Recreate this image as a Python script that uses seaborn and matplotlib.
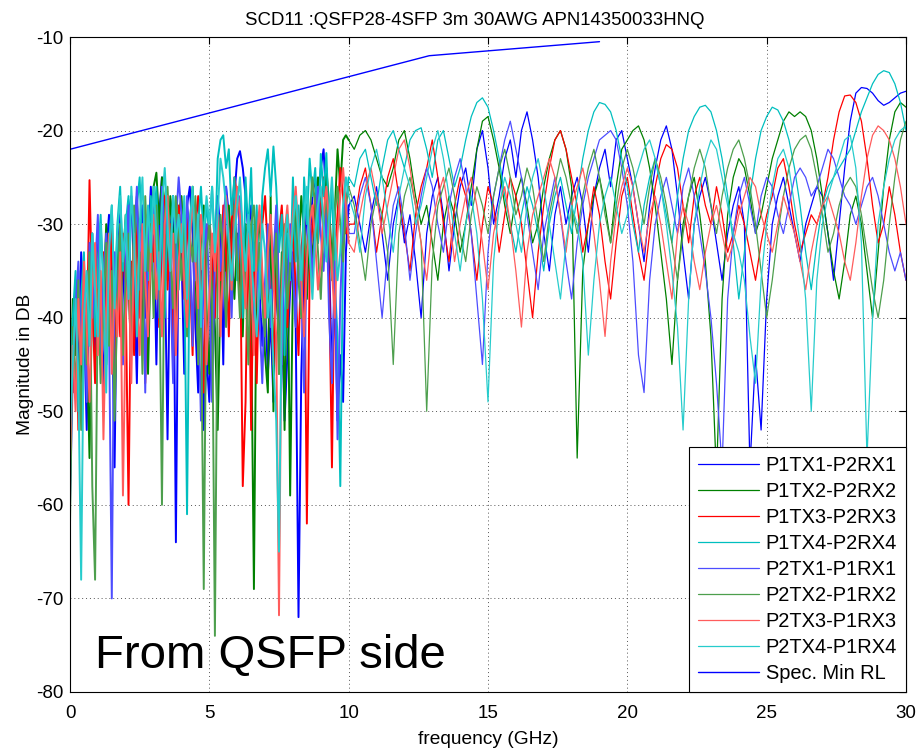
import numpy as np
import pandas as pd
import matplotlib
matplotlib.use("Agg")
import matplotlib.pyplot as plt
import seaborn as sns

# ---------------- data (dB values) ----------------
# low band: 0.0 .. 10.0 GHz ; high band: 10.2 .. 30.0 GHz
p1tx1_lo = [-58,-42,-36,-47,-33,-40,-52,-35,-31,-44,
            -30,-39,-48,-33,-29,-37,-56,-32,-28,-35,
            -41,-29,-27,-36,-47,-31,-28,-40,-33,-26,
            -30,-45,-29,-25,-34,-53,-31,-27,-64,-29,
            -33,-46,-28,-26,-31,-41,-48,-35,-52,-44,
            -49,-37,-32,-27,-31,-45,-26,-29,-34,-27,
            -23,-22.2,-24,-27,-31,-28,-34,-31,-37,-43,
            -38,-46,-40,-49,-35,-43,-39,-51,-44,-37,
            -33,-41,-72,-46,-35,-28,-32,-27,-25,-29,
            -24,-22,-28,-34,-46,-37,-51,-44,-49,-33,
            -28]
p1tx1_hi = [-27,-30,-33,-29,-26,-31,-36,-30,-27,-32,
            -29,-34,-40,-31,-27,-25,-29,-35,-30,-26,
            -24,-28,-22,-20,-24,-30,-27,-23,-21,-25,
            -20,-18,-21,-25,-31,-35,-29,-26,-30,-27,
            -25,-28,-33,-27,-24,-22,-26,-21,-20,-23,
            -26,-30,-34,-28,-24,-21,-19.5,-22,-27,-33,
            -38,-30,-27,-25,-28,-32,-36,-31,-28,-26,
            -30,-56,-44,-52,-38,-30,-27,-25,-28,-31,
            -34,-30,-28,-26,-27,-31,-36,-30,-24,-19,
            -16,-15.4,-15.5,-16,-16.8,-17.3,-17,-16.5,-16,-15.8]

p1tx2_lo = [-50,-38,-44,-35,-48,-37,-42,-55,-36,-40,
            -33,-45,-38,-30,-42,-36,-50,-31,-39,-34,
            -29,-37,-44,-31,-27,-35,-41,-29,-46,-33,
            -26,-24.5,-30,-25,-28,-36,-27,-31,-42,-29,
            -27,-33,-38,-30,-26,-35,-44,-31,-28,-39,
            -46,-34,-41,-52,-37,-30,-35,-28,-33,-38,
            -31,-36,-42,-30,-34,-40,-69,-33,-29,-37,
            -44,-48,-27,-50,-29,-46,-33,-52,-30,-59,
            -36,-29,-33,-27,-31,-38,-30,-34,-28,-25,
            -27,-31,-24,-28,-34,-29,-22,-26,-21,-20.5,
            -21]
p1tx2_hi = [-22,-20.5,-20,-21,-23,-25,-26,-24,-21,-20,
            -23,-27,-30,-28,-32,-36,-30,-27,-29,-33,
            -30,-26,-22,-19,-18.5,-21,-24,-28,-31,-27,
            -25,-28,-32,-30,-26,-23,-21,-20,-22,-26,
            -55,-35,-30,-27,-25,-28,-32,-26,-22,-21,
            -20,-19.5,-21,-24,-28,-33,-38,-45,-36,-30,
            -27,-25,-29,-34,-42,-57,-38,-29,-25,-23,
            -24,-27,-31,-29,-26,-23,-21,-19,-18,-18.5,
            -18,-18.5,-20,-23,-27,-31,-35,-38,-34,-29,
            -27,-30,-35,-40,-33,-26,-21,-18,-17,-17.5]

p1tx3_lo = [-45,-48,-37,-52,-40,-35,-43,-25.3,-38,-47,
            -36,-41,-33,-45,-39,-30,-48,-35,-42,-31,
            -38,-60,-34,-44,-29,-40,-33,-47,-36,-30,
            -34,-28,-41,-32,-27,-37,-30,-45,-33,-28,
            -31,-38,-29,-35,-44,-30,-27,-36,-48,-32,
            -29,-34,-40,-31,-36,-28,-33,-42,-30,-25,
            -27,-31,-58,-49,-29,-52,-32,-47,-34,-30,
            -27,-33,-38,-45,-36,-31,-28,-34,-41,-35,
            -30,-37,-44,-33,-29,-62,-35,-30,-27,-32,
            -28,-25,-31,-36,-56,-33,-29,-24,-27,-31,
            -30]
p1tx3_hi = [-30,-26,-24,-28,-33,-29,-25,-23,-27,-31,
            -35,-29,-26,-24,-21,-25,-30,-34,-28,-25,
            -27,-31,-36,-30,-26,-28,-33,-29,-25,-27,
            -30,-35,-40,-33,-28,-24,-21,-20,-22,-25,
            -28,-33,-30,-26,-29,-34,-38,-32,-27,-25,
            -29,-33,-36,-31,-26,-23,-21.5,-22,-24,-28,
            -32,-27,-25,-28,-30,-26,-29,-33,-31,-28,
            -30,-33,-36,-32,-29,-27,-24,-23,-26,-30,
            -33,-31,-29,-30,-28,-25,-21,-18,-16.3,-16.2,
            -17,-19,-23,-28,-32,-30,-26,-29,-33,-36]

p1tx4_lo = [-47,-40,-35,-50,-38,-33,-44,-36,-31,-42,
            -34,-29,-37,-45,-32,-28,-38,-30,-26,-35,
            -30,-27,-39,-33,-28,-25,-34,-29,-36,-27,
            -31,-26,-35,-29,-40,-28,-33,-27,-30,-37,
            -29,-34,-61,-31,-27,-36,-30,-26,-32,-28,
            -31,-26,-33,-23,-21,-20.5,-24,-22,-29,-25,
            -36,-29,-40,-25,-31,-24,-35,-28,-38,-27,
            -24,-22,-27,-21.7,-26,-33,-29,-44,-31,-36,
            -25,-34,-28,-39,-25,-30,-23,-27,-24,-32,
            -22.5,-27,-22.4,-31,-26,-36,-42,-58,-33,-28,
            -25]
p1tx4_hi = [-26,-23,-22,-25,-28,-24,-21,-20,-22,-24,
            -21,-20,-19.7,-22,-25,-21,-20,-23,-26,-24,
            -21,-18.5,-17,-16.5,-17.5,-20,-23,-27,-30,-33,
            -29,-26,-28,-31,-35,-30,-27,-25,-28,-31,
            -27,-23,-20,-18,-17,-17.2,-18,-20,-23,-26,
            -30,-33,-28,-25,-23,-26,-29,-32,-27,-23,
            -20,-18.5,-17.5,-17.3,-18,-20,-23,-27,-32,-38,
            -33,-27,-23,-20,-18.5,-17.5,-17.8,-19,-21,-24,
            -28,-33,-37,-32,-28,-26,-25,-24,-23,-22,
            -20,-18,-16.5,-15,-14,-13.6,-13.8,-15,-17,-20]

p2tx1_lo = [-60,-46,-39,-34,-43,-37,-49,-32,-40,-35,
            -29,-44,-36,-31,-41,-70,-33,-38,-30,-45,
            -34,-28,-42,-32,-26,-37,-30,-48,-29,-35,
            -27,-33,-40,-26,-31,-28,-36,-47,-30,-25,
            -29,-35,-27,-32,-43,-28,-38,-51,-34,-30,
            -37,-49,-33,-28,-35,-30,-26,-32,-40,-29,
            -34,-27,-31,-38,-29,-35,-42,-33,-40,-47,
            -36,-30,-41,-34,-28,-37,-45,-32,-38,-30,
            -35,-41,-31,-37,-48,-33,-29,-36,-30,-26,
            -31,-35,-28,-40,-47,-34,-53,-38,-30,-27,
            -31]
p2tx1_hi = [-31,-27,-25,-28,-34,-40,-33,-28,-26,-30,
            -36,-31,-27,-24,-26,-30,-33,-28,-25,-23,
            -26,-31,-38,-45,-33,-27,-24,-21,-19,-22,
            -25,-29,-33,-37,-31,-28,-25,-29,-34,-38,
            -32,-28,-25,-23,-21,-20.5,-20,-21,-24,-28,
            -34,-44,-48,-36,-30,-27,-25,-28,-31,-26,
            -24,-27,-31,-35,-40,-47,-56,-38,-31,-27,
            -25,-28,-31,-27,-25,-26,-29,-31,-28,-25,
            -24,-25,-27,-26,-24,-22,-23,-25,-27,-28,
            -30,-28,-26,-25,-27,-30,-33,-35,-33,-36]

p2tx2_lo = [-62,-41,-48,-36,-52,-39,-45,-33,-58,-68,
            -37,-47,-40,-32,-43,-35,-51,-38,-30,-44,
            -36,-31,-42,-28,-38,-33,-46,-27,-35,-30,
            -40,-28,-34,-60,-29,-26,-33,-39,-27,-31,
            -36,-29,-42,-31,-34,-27,-45,-38,-69,-33,
            -30,-38,-74,-35,-29,-33,-41,-31,-37,-28,
            -34,-40,-31,-36,-45,-30,-28,-35,-32,-38,
            -42,-33,-29,-37,-31,-46,-35,-30,-39,-34,
            -31,-27,-36,-40,-30,-34,-29,-25,-28,-33,
            -38,-30,-27,-32,-36,-29,-26,-30,-34,-28,
            -26]
p2tx2_hi = [-28,-32,-36,-30,-27,-29,-33,-45,-31,-27,
            -25,-28,-32,-50,-34,-28,-26,-24,-27,-31,
            -34,-29,-26,-28,-31,-27,-24,-22,-25,-29,
            -27,-24,-26,-30,-34,-29,-26,-23,-25,-28,
            -31,-27,-24,-22,-25,-29,-32,-28,-24,-22,
            -24,-27,-30,-26,-23,-25,-28,-32,-36,-31,
            -27,-24,-22,-24,-28,-31,-27,-24,-22,-21,
            -23,-26,-30,-35,-40,-36,-31,-27,-24,-22,
            -21,-20.5,-22,-25,-29,-33,-31,-28,-26,-25,
            -26,-29,-33,-37,-40,-36,-30,-25,-21,-19]

p2tx3_lo = [-55,-43,-50,-38,-45,-34,-41,-49,-37,-32,
            -44,-35,-53,-39,-31,-46,-36,-42,-33,-59,
            -40,-34,-47,-31,-38,-44,-30,-36,-42,-33,
            -29,-38,-33,-42,-30,-27,-35,-31,-44,-34,
            -30,-36,-41,-32,-27,-34,-39,-29,-33,-45,
            -38,-31,-35,-29,-42,-33,-27,-31,-37,-30,
            -26,-29,-34,-39,-31,-36,-44,-32,-28,-35,
            -40,-33,-29,-36,-42,-71.8,-37,-31,-28,-33,
            -29,-26,-31,-36,-42,-34,-30,-28,-32,-37,
            -34,-29,-26,-30,-35,-40,-31,-27,-24,-28,
            -32]
p2tx3_hi = [-33,-29,-26,-24,-27,-31,-28,-25,-22,-21,
            -24,-28,-32,-36,-30,-27,-25,-29,-34,-30,
            -27,-25,-28,-32,-37,-31,-28,-26,-30,-35,
            -41,-33,-29,-27,-25,-23,-25,-29,-33,-28,
            -26,-24,-27,-31,-36,-42,-34,-29,-26,-24,
            -26,-30,-33,-29,-27,-30,-34,-38,-31,-28,
            -30,-34,-37,-33,-30,-28,-31,-34,-32,-29,
            -27,-25,-26,-29,-31,-33,-30,-27,-29,-31,
            -34,-37,-33,-30,-28,-27,-29,-31,-34,-36,
            -32,-27,-23,-20.5,-19.5,-20,-21,-23,-26,-30]

p2tx4_lo = [-52,-45,-38,-47,-68,-40,-35,-43,-31,-37,
            -42,-30,-36,-48,-33,-28,-39,-31,-27,-34,
            -29,-38,-26,-32,-42,-30,-25,-35,-28,-33,
            -26,-31,-37,-28,-24,-30,-35,-27,-32,-29,
            -33,-27,-38,-30,-26,-34,-29,-41,-31,-27,
            -30,-26,-33,-29,-23,-25,-28,-32,-36,-31,
            -28,-25,-31,-35,-29,-33,-38,-42,-36,-30,
            -33,-40,-37,-45,-51,-65,-39,-32,-29,-34,
            -30,-27,-31,-36,-29,-26,-33,-38,-31,-28,
            -26,-30,-34,-29,-25,-31,-36,-33,-28,-25,
            -27]
p2tx4_hi = [-29,-33,-27,-24,-22,-25,-29,-33,-27,-24,
            -26,-30,-28,-25,-22,-20,-23,-27,-31,-35,
            -30,-27,-31,-38,-49,-34,-28,-25,-27,-30,
            -33,-28,-25,-23,-26,-30,-34,-38,-32,-28,
            -30,-34,-44,-36,-30,-27,-25,-28,-31,-29,
            -26,-24,-22,-21,-23,-26,-30,-35,-41,-52,
            -38,-30,-26,-23,-21,-22,-25,-28,-31,-33,
            -36,-42,-47,-36,-30,-26,-23,-22,-24,-28,
            -32,-38,-50,-36,-30,-27,-25,-23,-21,-20.5,
            -24,-32,-55,-40,-30,-26,-23,-21,-20,-19.5]

spec_freq = [0.0, 12.89, 19.0]
spec_db = [-22.0, -12.0, -10.5]

labels = ["P1TX1-P2RX1", "P1TX2-P2RX2", "P1TX3-P2RX3", "P1TX4-P2RX4",
          "P2TX1-P1RX1", "P2TX2-P1RX2", "P2TX3-P1RX3", "P2TX4-P1RX4"]
colors = ["#0000ff", "#008000", "#ff0000", "#00bfbf",
          "#4d4dff", "#4d9f4d", "#ff5c5c", "#26cccc"]
series = [(p1tx1_lo, p1tx1_hi), (p1tx2_lo, p1tx2_hi), (p1tx3_lo, p1tx3_hi),
          (p1tx4_lo, p1tx4_hi), (p2tx1_lo, p2tx1_hi), (p2tx2_lo, p2tx2_hi),
          (p2tx3_lo, p2tx3_hi), (p2tx4_lo, p2tx4_hi)]

# ---------------- plot ----------------
sns.set_style("white")
plt.rcParams["font.family"] = ["Liberation Sans", "DejaVu Sans"]
plt.rcParams["axes.unicode_minus"] = False
plt.rcParams["text.color"] = "black"
plt.rcParams["axes.labelcolor"] = "black"
plt.rcParams["xtick.color"] = "black"
plt.rcParams["ytick.color"] = "black"

fig = plt.figure(figsize=(9.18, 7.48), dpi=100)
ax = fig.add_axes([70 / 918, 56 / 748, 836 / 918, 655 / 748])

for (lo, hi), lab, col in zip(series, labels, colors):
    f_lo = np.linspace(0, 10, len(lo))
    f_hi = np.concatenate([[f_lo[-1]], np.linspace(10.2, 30, len(hi))])
    df_lo = pd.DataFrame({"freq": f_lo, "db": list(lo)})
    df_hi = pd.DataFrame({"freq": f_hi, "db": [lo[-1]] + list(hi)})
    # dense low band drawn slightly heavier, like the tightly sampled original
    sns.lineplot(data=df_lo, x="freq", y="db", ax=ax, color=col, lw=1.4,
                 estimator=None, sort=False, legend=False)
    sns.lineplot(data=df_hi, x="freq", y="db", ax=ax, color=col, lw=0.9,
                 label=lab, estimator=None, sort=False)

spec_df = pd.DataFrame({"freq": spec_freq, "db": spec_db})
sns.lineplot(data=spec_df, x="freq", y="db", ax=ax, color="#0000ff", lw=1.0,
             label="Spec. Min RL", estimator=None, sort=False)

ax.set_xlim(0, 30)
ax.set_ylim(-80, -10)
ax.set_xticks(range(0, 31, 5))
ax.set_yticks(range(-80, -9, 10))
ax.tick_params(direction="in", length=5, width=0.8, labelsize=13.5,
               top=True, right=True, colors="black")
ax.tick_params(axis="x", pad=9)
ax.tick_params(axis="y", pad=5)
ax.grid(True, linestyle=(0, (1, 3)), color="#555555", lw=0.7)
for s in ax.spines.values():
    s.set_color("black")
    s.set_linewidth(0.8)

ax.set_title("SCD11 :QSFP28-4SFP 3m 30AWG APN14350033HNQ", fontsize=13.4,
             pad=9, x=0.4845)
ax.set_xlabel("frequency (GHz)", fontsize=13.8, labelpad=7)
ax.set_ylabel("Magnitude in DB", fontsize=13.8, labelpad=1)

ax.text(0.9, -77.4, "From QSFP side", fontsize=34, va="baseline", ha="left",
        color="black")

leg = ax.legend(loc="lower right", borderaxespad=0, fancybox=False,
                edgecolor="black", framealpha=1, fontsize=14.4,
                handlelength=3.05, handletextpad=0.35, labelspacing=0.35,
                borderpad=0.45)
leg.get_frame().set_linewidth(0.8)

fig.savefig("out.png", dpi=100)
